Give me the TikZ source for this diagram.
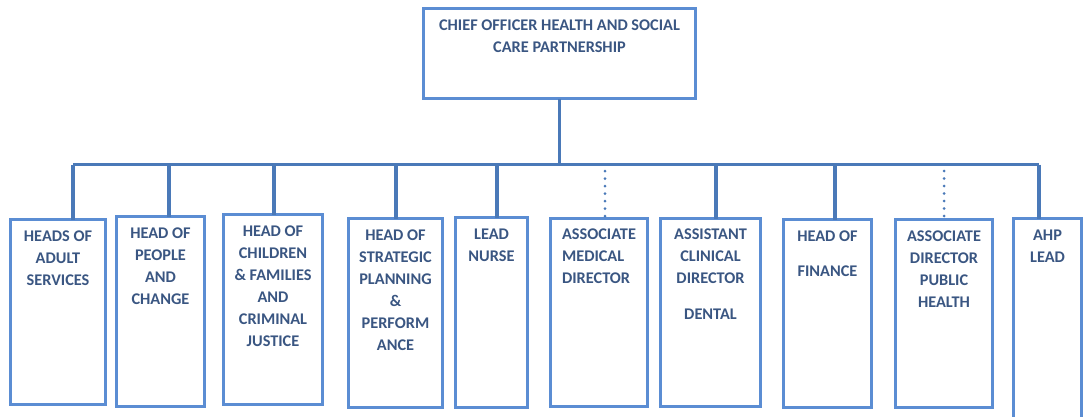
\documentclass[tikz,border=0pt]{standalone}
\usepackage{fontspec}
\setmainfont{Carlito}
\usetikzlibrary{positioning}

\definecolor{boxblue}{HTML}{5B8DD3}
\definecolor{linkblue}{HTML}{4A79B8}
\definecolor{txtblue}{HTML}{3A5682}

\tikzset{
    post/.style={draw=boxblue, line width=3.5pt, fill=white, inner sep=0pt, outer sep=0pt},
    txt/.style={text=txtblue, font=\fontsize{16.3}{22}\selectfont\bfseries, align=center, inner sep=0pt, anchor=north},
    link/.style={draw=linkblue, line width=3.2pt},
    dotlink/.style={draw=linkblue, line width=3pt, line cap=round, dash pattern=on 0pt off 7.5pt}
}

\begin{document}
\begin{tikzpicture}[x=1pt, y=-1pt]
        \useasboundingbox (0, 0) rectangle (1088, 416);

        \node[post, minimum width=272pt, minimum height=90pt] (chief) at (559.5, 53.5) {};
        \node[txt, below=11.5pt of chief.north] (chiefT) {CHIEF OFFICER HEALTH AND SOCIAL\\CARE PARTNERSHIP};

        \coordinate (busL) at (73, 164.5);
        \coordinate (busR) at (1039, 164.5);
        \draw[link] (chief.south) -- (chief.south |- busL);
        \draw[link] (busL) -- (busR);

        \node[post, minimum width=95pt, minimum height=185pt] (adult) at (58, 312) {};
        \node[post, minimum width=88pt, minimum height=190pt] (people) at (160.5, 311.5) {};
        \node[post, minimum width=99pt, minimum height=190pt] (children) at (273, 309.5) {};
        \node[post, minimum width=94pt, minimum height=189pt] (strategic) at (395.5, 313) {};
        \node[post, minimum width=72pt, minimum height=190pt] (nurse) at (491.5, 312.5) {};
        \node[post, minimum width=97pt, minimum height=188pt] (medical) at (599, 312.5) {};
        \node[post, minimum width=100pt, minimum height=188pt] (clinical) at (710.5, 312.5) {};
        \node[post, minimum width=88pt, minimum height=188pt] (finance) at (827.5, 313.5) {};
        \node[post, minimum width=97pt, minimum height=188pt] (pubhealth) at (944, 313.5) {};
        \node[post, minimum width=68pt, minimum height=210pt] (ahp) at (1047.5, 323.5) {};

        \node[txt, below=11.5pt of adult.north] (adultT) {HEADS OF\\ADULT\\SERVICES};
        \node[txt, below=11.5pt of people.north] (peopleT) {HEAD OF\\PEOPLE\\AND\\CHANGE};
        \node[txt, below=11.5pt of children.north] (childrenT) {HEAD OF\\CHILDREN\\\& FAMILIES\\AND\\CRIMINAL\\JUSTICE};
        \node[txt, below=11.5pt of strategic.north] (strategicT) {HEAD OF\\STRATEGIC\\PLANNING\\\&\\PERFORM\\ANCE};
        \node[txt, below=11.5pt of nurse.north] (nurseT) {LEAD\\NURSE};
        \node[txt, align=left, below=10.5pt of medical.north] (medicalT) {ASSOCIATE\\MEDICAL\\DIRECTOR};
        \node[txt, below=10.5pt of clinical.north] (clinicalT) {ASSISTANT\\CLINICAL\\DIRECTOR\\[14pt]DENTAL};
        \node[txt, below=11.5pt of finance.north] (financeT) {HEAD OF\\[13pt]FINANCE};
        \node[txt, below=11.5pt of pubhealth.north] (pubhealthT) {ASSOCIATE\\DIRECTOR\\PUBLIC\\HEALTH};
        \node[txt, below=11.5pt of ahp.north] (ahpT) {AHP\\LEAD};

        \draw[link] (busL) -- (busL |- adult.north);
        \draw[link] (169, 164.5) coordinate (c2) -- (c2 |- people.north);
        \draw[link] (274, 164.5) coordinate (c3) -- (c3 |- children.north);
        \draw[link] (396, 164.5) coordinate (c4) -- (c4 |- strategic.north);
        \draw[link] (497, 164.5) coordinate (c5) -- (c5 |- nurse.north);
        \draw[dotlink] (605, 171) coordinate (c6) -- (c6 |- medical.north);
        \draw[link] (716, 164.5) coordinate (c7) -- (c7 |- clinical.north);
        \draw[link] (835, 164.5) coordinate (c8) -- (c8 |- finance.north);
        \draw[dotlink] (944, 171) coordinate (c9) -- (c9 |- pubhealth.north);
        \draw[link] (busR) -- (busR |- ahp.north);
\end{tikzpicture}
\end{document}
